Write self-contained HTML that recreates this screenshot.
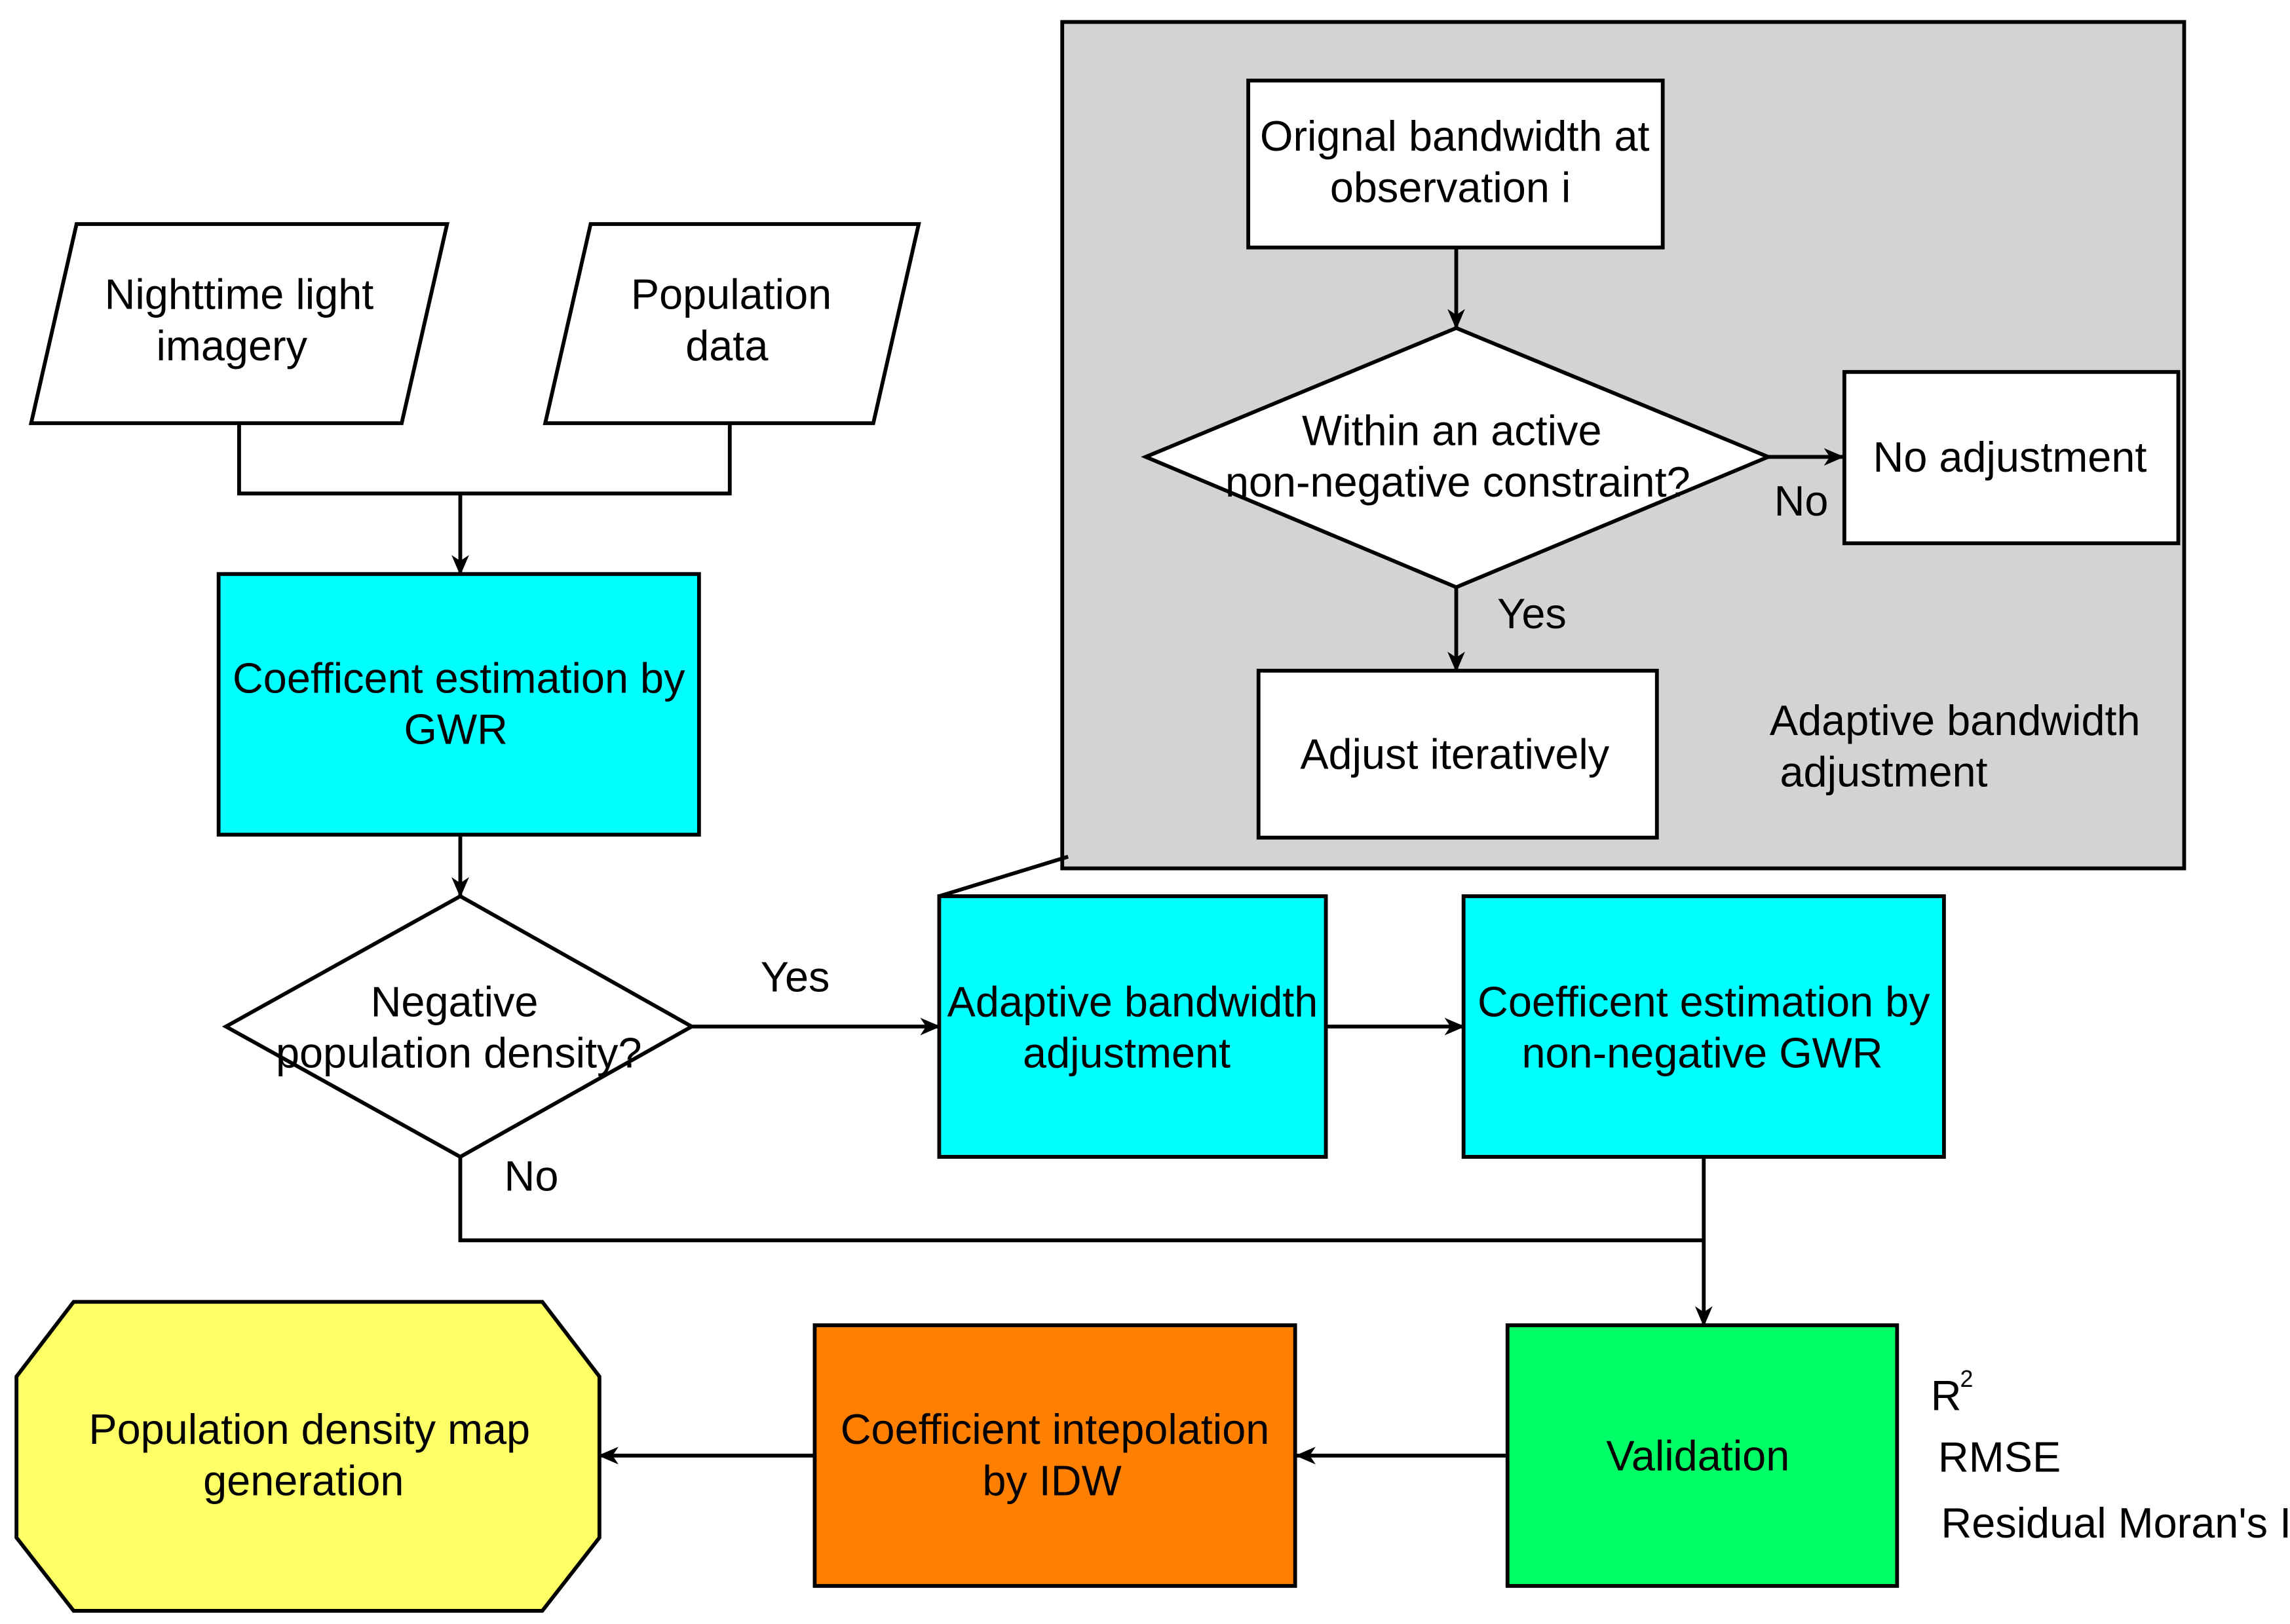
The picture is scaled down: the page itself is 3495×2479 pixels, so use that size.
<!DOCTYPE html>
<html><head><meta charset="utf-8"><style>
html,body{margin:0;padding:0;background:#fff}
svg{display:block}
text{font-family:"Liberation Sans",sans-serif;font-size:29px;fill:#000;letter-spacing:0px}
</style></head><body>
<svg width="3495" height="2479" viewBox="0 0 1563 1109" xmlns="http://www.w3.org/2000/svg">
<defs>
<marker id="a" markerWidth="14" markerHeight="12" refX="13" refY="6" orient="auto" markerUnits="userSpaceOnUse">
<path d="M0,0 L14,6 L0,12 L4,6 Z" fill="#000"/>
</marker>
</defs>
<g stroke="#000" stroke-width="2.6" fill="none">
<rect x="725" y="15" width="766" height="578" fill="#d3d3d3"/>
<rect x="852" y="55" width="283" height="114" fill="#fff"/>
<line x1="994" y1="169" x2="994" y2="224" marker-end="url(#a)"/>
<polygon points="994,224 1207,312 994,401 782,312" fill="#fff"/>
<line x1="1207" y1="312" x2="1258" y2="312" marker-end="url(#a)"/>
<rect x="1259" y="254" width="228" height="117" fill="#fff"/>
<line x1="994" y1="401" x2="994" y2="458" marker-end="url(#a)"/>
<rect x="859" y="458" width="272" height="114" fill="#fff"/>
<line x1="729" y1="585" x2="641" y2="612"/>
<polygon points="52,153 305,153 274,289 21,289" fill="#fff"/>
<polygon points="403,153 627,153 596,289 372,289" fill="#fff"/>
<polyline points="163,289 163,337 498,337 498,289"/>
<line x1="314" y1="337" x2="314" y2="392" marker-end="url(#a)"/>
<rect x="149" y="392" width="328" height="178" fill="#00ffff"/>
<line x1="314" y1="570" x2="314" y2="612" marker-end="url(#a)"/>
<polygon points="314,612 472,701 314,790 154,701" fill="#fff"/>
<line x1="472" y1="701" x2="641" y2="701" marker-end="url(#a)"/>
<rect x="641" y="612" width="264" height="178" fill="#00ffff"/>
<line x1="905" y1="701" x2="999" y2="701" marker-end="url(#a)"/>
<rect x="999" y="612" width="328" height="178" fill="#00ffff"/>
<polyline points="314,790 314,847 1163,847"/>
<line x1="1163" y1="790" x2="1163" y2="905" marker-end="url(#a)"/>
<rect x="1029" y="905" width="266" height="178" fill="#00ff66"/>
<line x1="1029" y1="994" x2="885" y2="994" marker-end="url(#a)"/>
<rect x="556" y="905" width="328" height="178" fill="#ff8000"/>
<line x1="556" y1="994" x2="409" y2="994" marker-end="url(#a)"/>
<polygon points="50,889 370,889 409,940 409,1050 370,1100 50,1100 11,1050 11,940" fill="#ffff66"/>
</g>
<g text-anchor="middle">
<text x="993" y="103">Orignal bandwidth at</text>
<text x="990" y="138">observation i</text>
<text x="991" y="304">Within an active</text>
<text x="995" y="339">non-negative constraint?</text>
<text x="1372" y="322">No adjustment</text>
<text x="993" y="525">Adjust iteratively</text>
<text x="163" y="211">Nighttime light</text>
<text x="158" y="246">imagery</text>
<text x="499" y="211">Population</text>
<text x="496" y="246">data</text>
<text x="313" y="473">Coefficent estimation by</text>
<text x="311" y="508">GWR</text>
<text x="310" y="694">Negative</text>
<text x="313" y="729">population density?</text>
<text x="773" y="694">Adaptive bandwidth</text>
<text x="769" y="729">adjustment</text>
<text x="1163" y="694">Coefficent estimation by</text>
<text x="1162" y="729">non-negative GWR</text>
<text x="1159" y="1004">Validation</text>
<text x="720" y="986">Coefficient intepolation</text>
<text x="718" y="1021">by IDW</text>
<text x="211" y="986">Population density map</text>
<text x="207" y="1021">generation</text>
</g>
<text x="1211" y="352">No</text>
<text x="1022" y="429">Yes</text>
<text x="1208" y="502">Adaptive bandwidth</text>
<text x="1215" y="537">adjustment</text>
<text x="519" y="677">Yes</text>
<text x="344" y="813">No</text>
<text x="1318" y="963">R</text>
<text x="1338" y="947" style="font-size:16px">2</text>
<text x="1323" y="1005">RMSE</text>
<text x="1325" y="1050">Residual Moran's I</text>
</svg>
</body></html>
